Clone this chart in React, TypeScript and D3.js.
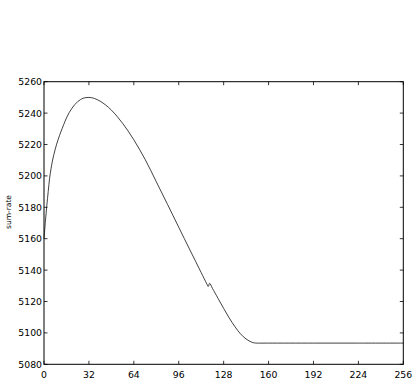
import React from "react";
import * as d3 from "d3";

const xs: number[] = [0, 1, 2, 3, 4, 5, 6, 7, 8, 9, 10, 11, 12, 14, 16, 18, 20, 22, 24, 26, 28, 30, 32, 34, 36, 40, 44, 48, 52, 56, 60, 64, 68, 72, 76, 80, 84, 88, 92, 96, 100, 104, 108, 112, 116, 117, 118, 120, 124, 128, 132, 136, 140, 144, 148, 150, 152, 160, 192, 224, 256];
const sumRate: number[] = [5160, 5171, 5181, 5190, 5198.5, 5204.5, 5209.5, 5213.5, 5217, 5220.2, 5223, 5225.6, 5228, 5232.6, 5236.9, 5240.4, 5243.2, 5245.5, 5247.3, 5248.6, 5249.5, 5249.9, 5250, 5249.8, 5249.3, 5247.6, 5245.1, 5241.9, 5238, 5233.5, 5228.5, 5223, 5217, 5210.6, 5203.6, 5196.3, 5189.1, 5181.9, 5174.6, 5167.3, 5160, 5152.8, 5145.6, 5138.4, 5131.2, 5129.6, 5131.6, 5128.4, 5122, 5115.6, 5109.5, 5104, 5099.4, 5096.1, 5094.1, 5093.6, 5093.5, 5093.5, 5093.5, 5093.5, 5093.5];
const xTicks: number[] = [0, 32, 64, 96, 128, 160, 192, 224, 256];
const yTicks: number[] = [5080, 5100, 5120, 5140, 5160, 5180, 5200, 5220, 5240, 5260];
const yLabel = "sum-rate";

export default function App() {
  const W = 413, H = 378;
  const L = 44, R = 403.3, T = 81.7, B = 364.3;
  const x = d3.scaleLinear().domain([0, 256]).range([L, R]);
  const y = d3.scaleLinear().domain([5080, 5260]).range([B, T]);
  const pts: [number, number][] = xs.map((v, i) => [v, sumRate[i]]);
  const line = d3.line<[number, number]>().x(d => x(d[0])).y(d => y(d[1])).curve(d3.curveCatmullRom.alpha(0.5));
  const tl = 3.5;
  const font = "'DejaVu Sans', sans-serif";
  return (
    <svg width={W} height={H} style={{ position: "absolute", left: 0, top: 0, background: "#fff" }}>
      <rect x={0} y={0} width={W} height={H} fill="#fff" />
      <path d={line(pts) || ""} fill="none" stroke="#111" strokeWidth={0.8} />
      <rect x={L} y={T} width={R - L} height={B - T} fill="none" stroke="#000" strokeWidth={1} />
      {xTicks.map(t => (
        <g key={"x" + t}>
          <line x1={x(t)} x2={x(t)} y1={B} y2={B - tl} stroke="#000" strokeWidth={0.8} />
          <line x1={x(t)} x2={x(t)} y1={T} y2={T + tl} stroke="#000" strokeWidth={0.8} />
          <text x={x(t)} y={374} textAnchor="middle" dominantBaseline="central" fontFamily={font} fontSize={9.3} fill="#000">{t}</text>
        </g>
      ))}
      {yTicks.map(t => (
        <g key={"y" + t}>
          <line x1={L} x2={L + tl} y1={y(t)} y2={y(t)} stroke="#000" strokeWidth={0.8} />
          <line x1={R} x2={R - tl} y1={y(t)} y2={y(t)} stroke="#000" strokeWidth={0.8} />
          <text x={42} y={y(t)} textAnchor="end" dominantBaseline="central" fontFamily={font} fontSize={9.3} fill="#000">{t}</text>
        </g>
      ))}
      <text transform={`translate(8,212) rotate(-90)`} textAnchor="middle" dominantBaseline="central" fontFamily={font} fontSize={7.5} fill="#000">{yLabel}</text>
    </svg>
  );
}
